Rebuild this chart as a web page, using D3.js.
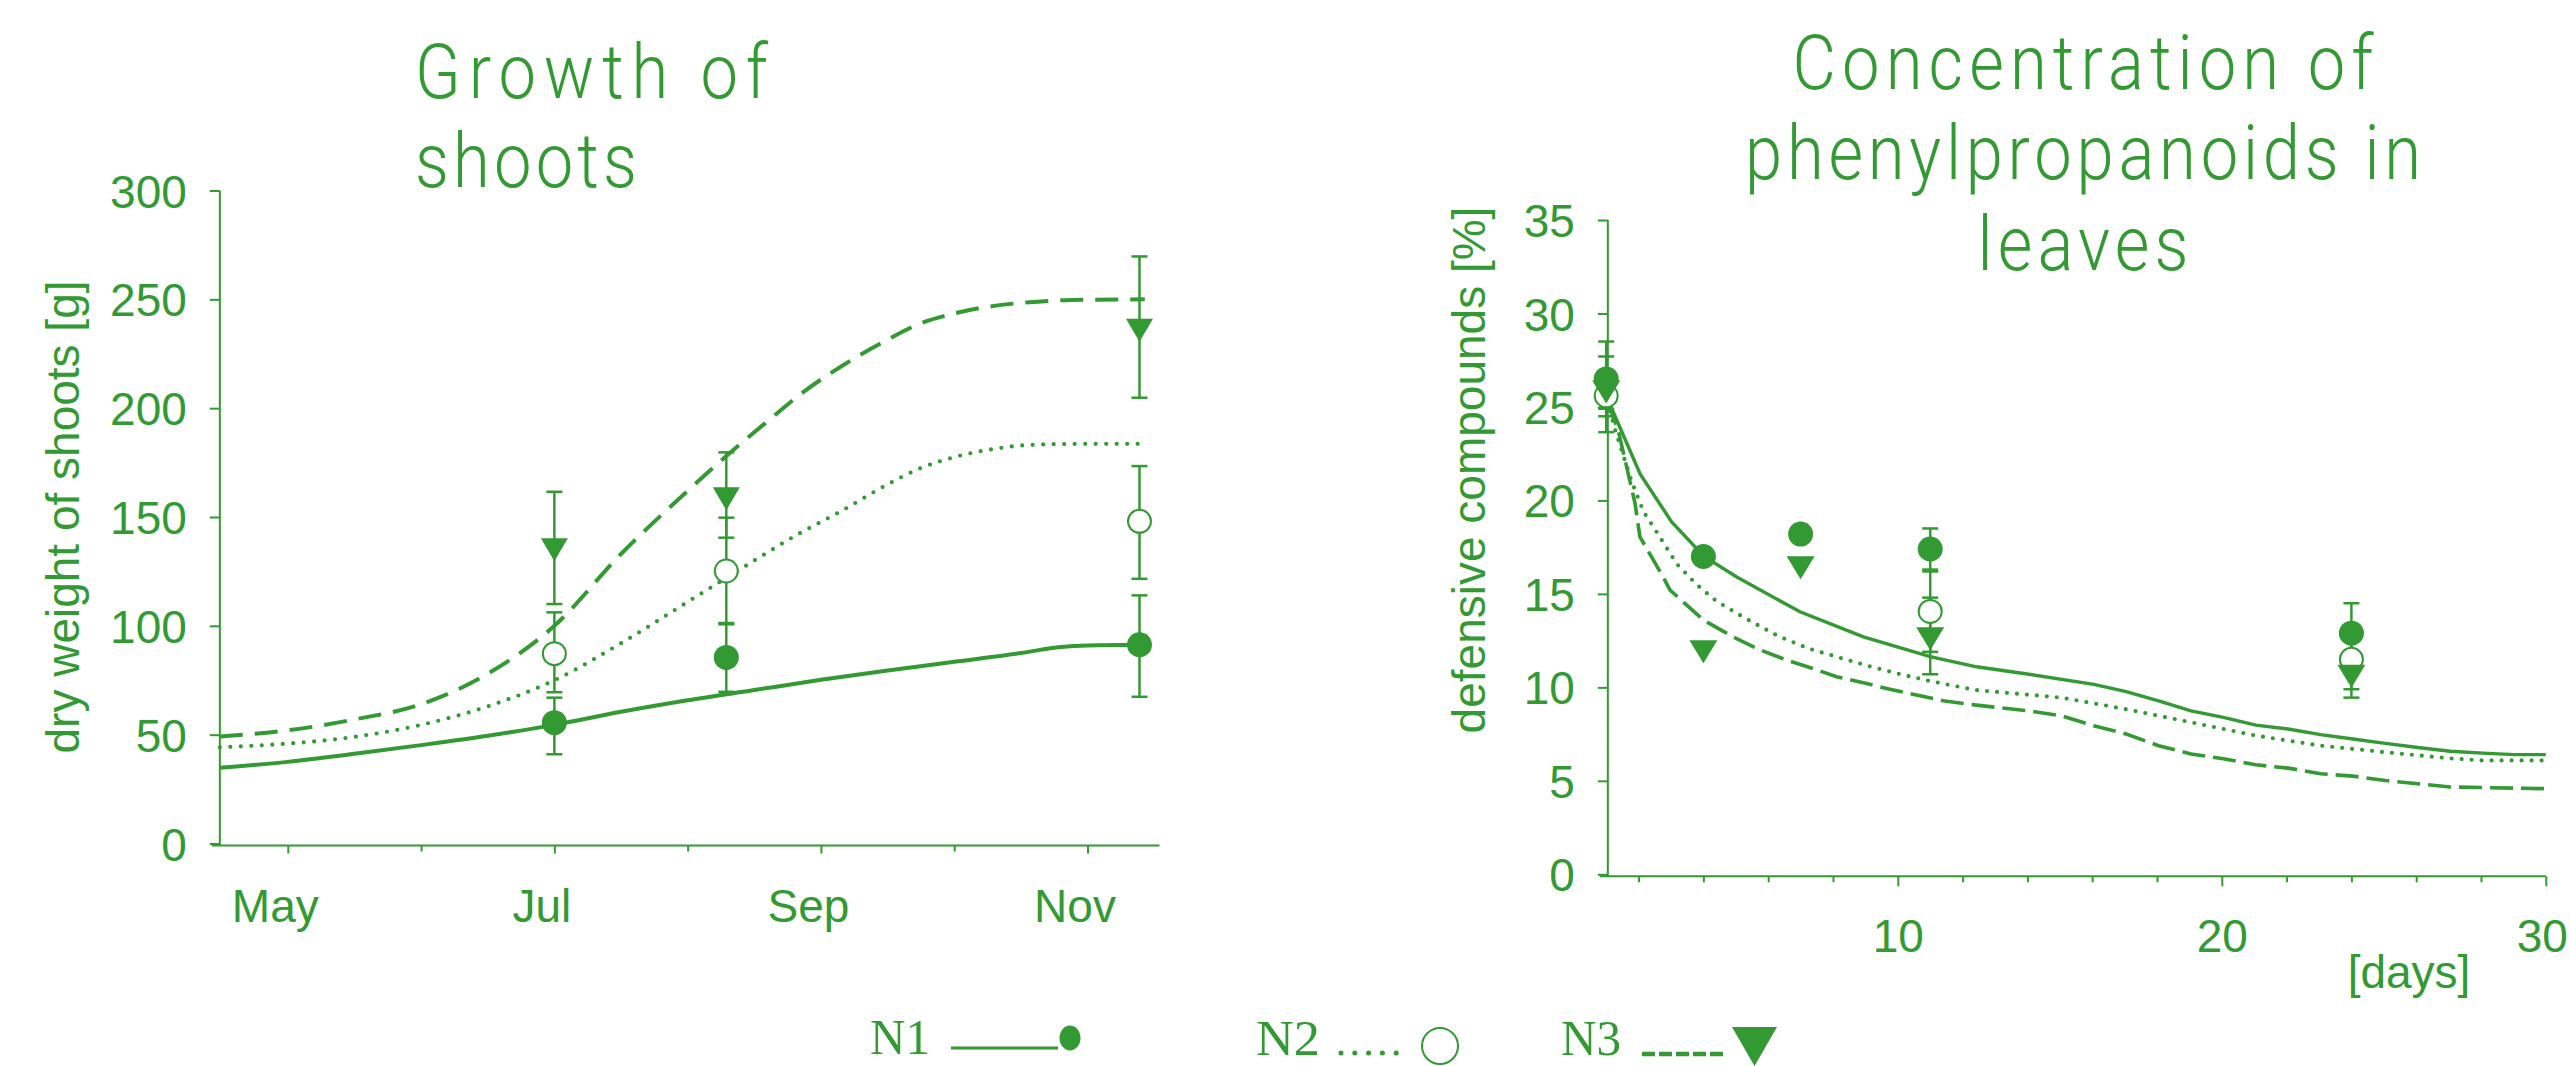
<!DOCTYPE html>
<html><head><meta charset="utf-8">
<script src="https://cdn.jsdelivr.net/npm/d3@7"></script>
<style>body{margin:0;background:#fff;} svg{display:block}</style>
</head><body>
<svg id="chart" width="2570" height="1066"></svg>
<script>
// ---------- DATA ----------
// Left panel: growth of shoots (x = month number, 5 = May)
const monthTicks = [5, 6, 7, 8, 9, 10, 11];
const monthLabels = ["May", "", "Jul", "", "Sep", "", "Nov"];
const growthYTicks = [0, 50, 100, 150, 200, 250, 300];

const growthN1Curve = [[4.49,34.8],[5.0,37.5],[5.5,41.2],[6.0,45.2],[6.5,49.5],[7.0,54.5],[7.5,60.5],[8.0,65.8],[8.5,70.5],[9.0,75.2],[9.5,79.5],[10.0,83.5],[10.5,87.5],[10.8,90.3],[11.0,91.0],[11.43,91.3]];
const growthN2Curve = [[4.49,44.2],[5.0,45.9],[5.5,49.0],[6.0,54.5],[6.5,63.0],[7.0,75.0],[7.5,92.0],[8.0,111.0],[8.29,122.0],[8.84,142.5],[9.16,153.0],[9.5,165.0],[9.73,172.0],[10.0,177.5],[10.3,181.3],[10.6,183.2],[11.0,183.6],[11.43,183.6]];
const growthN3Curve = [[4.49,49.2],[5.0,52.0],[5.5,57.0],[6.0,64.0],[6.5,78.0],[7.0,100.0],[7.5,133.0],[8.0,162.0],[8.29,178.0],[8.58,193.0],[8.87,207.5],[9.16,219.5],[9.5,231.5],[9.73,238.5],[10.0,243.5],[10.3,247.0],[10.6,248.8],[10.88,249.7],[11.43,250.0]];

const growthSampleMonths = [7.0, 8.29, 11.39];
const growthN1Mean = [55.5, 85.5, 91.3];
const growthN1Hi   = [67.0, 101.3, 114.0];
const growthN1Lo   = [41.0, 69.7, 67.4];
const growthN2Mean = [87.2, 125.2, 148.0];
const growthN2Hi   = [106.2, 149.7, 173.4];
const growthN2Lo   = [69.5, 100.7, 121.6];
const growthN3Mean = [135.0, 158.4, 235.8];
const growthN3Hi   = [161.6, 179.7, 269.7];
const growthN3Lo   = [110.0, 140.5, 204.8];

// Right panel: phenylpropanoids (x = days)
const dayTicks = [2,4,6,8,10,12,14,16,18,20,22,24,26,28,30];
const dayLabels = ["10", "20", "30"];
const concYTicks = [0, 5, 10, 15, 20, 25, 30, 35];

const concN1Curve = [[1.05,25.4],[2.05,21.4],[3.02,18.85],[4.02,17.0],[5.03,15.9],[6.98,14.04],[8.94,12.7],[11.0,11.64],[12.43,11.1],[14.05,10.7],[16.05,10.16],[17.05,9.77],[18.05,9.28],[19.05,8.74],[20.05,8.39],[21.05,7.98],[22.05,7.77],[23.05,7.47],[24.05,7.24],[25.05,7.0],[26.05,6.78],[27.05,6.58],[28.05,6.48],[29.05,6.4],[30,6.4]];
const concN2Curve = [[1.05,25.3],[1.27,23.8],[1.79,21.0],[2.15,19.4],[2.56,18.3],[3.18,16.6],[3.79,15.5],[4.41,14.6],[5.39,13.6],[6.31,12.74],[7.24,12.08],[8.22,11.58],[9.19,11.1],[10.17,10.66],[11.1,10.3],[12.38,9.86],[15.05,9.45],[17.05,8.83],[19.05,8.13],[21.05,7.42],[23.05,6.88],[25.05,6.53],[27.05,6.2],[28.05,6.09],[30,6.09]];
const concN3Curve = [[1.05,25.2],[1.37,23.76],[1.89,19.84],[2.04,18.05],[2.76,15.9],[2.97,15.2],[4.0,13.6],[4.92,12.7],[5.75,12.0],[6.57,11.46],[7.39,11.0],[8.11,10.57],[9.04,10.2],[9.86,9.86],[10.58,9.59],[11.4,9.28],[12.43,9.05],[14.05,8.74],[15.05,8.48],[16.05,7.95],[17.05,7.5],[18.05,6.88],[19.05,6.44],[20.05,6.18],[21.05,5.86],[22.05,5.68],[23.05,5.38],[24.05,5.25],[25.05,5.02],[26.05,4.84],[27.05,4.67],[29.05,4.61],[30,4.58]];

const concSampleDays = [1, 4, 7, 11, 24];
const concN1Mean = [26.5, 17.0, 18.2, 17.4, 12.9];
const concN1Hi   = [28.5, null, null, 18.5, 14.5];
const concN1Lo   = [24.5, null, null, 16.3, 11.3];
const concN2Mean = [25.6, null, null, 14.06, 11.5];
const concN2Hi   = [27.7, null, null, 16.2, 13.1];
const concN2Lo   = [23.65, null, null, 11.9, 9.9];
const concN3Mean = [25.8, 11.9, 16.4, 12.6, 10.6];
const concN3Hi   = [26.8, null, null, 14.8, 11.75];
const concN3Lo   = [24.9, null, null, 10.7, 9.45];

const legendLabels = ["N1", "N2", "N3"];

// ---------- DRAWING ----------
const GREEN = "#339933";
const SANS = "'Liberation Sans', Arial, sans-serif";
const TITLE = "Roboto, 'Liberation Sans', Arial, sans-serif";
const TSX = 0.88; // horizontal squeeze of title glyphs
const svg = d3.select("#chart");

function styleLine(sel, kind, w, dash) {
  sel.attr("fill", "none").attr("stroke", GREEN).attr("stroke-width", w);
  if (kind === "dot") sel.attr("stroke-dasharray", "0," + dash).attr("stroke-linecap", "round");
  if (kind === "dash") sel.attr("stroke-dasharray", dash);
}

function drawMarker(g, kind, cx, cy, s) {
  if (kind === "filled") {
    g.append("circle").attr("cx", cx).attr("cy", cy).attr("r", s.r).attr("fill", GREEN);
  } else if (kind === "open") {
    g.append("circle").attr("cx", cx).attr("cy", cy).attr("r", s.r - 1).attr("fill", "#fff")
      .attr("stroke", GREEN).attr("stroke-width", 2);
  } else {
    const w = s.tw, h = s.th;
    g.append("path").attr("d", `M${cx - w/2},${cy - h/2} L${cx + w/2},${cy - h/2} L${cx},${cy + h/2} Z`).attr("fill", GREEN);
  }
}

function drawErr(g, x, yHi, yLo) {
  g.append("line").attr("x1", x).attr("x2", x).attr("y1", yHi).attr("y2", yLo)
    .attr("stroke", GREEN).attr("stroke-width", 2.5);
  [yHi, yLo].forEach(y => g.append("line").attr("x1", x - 8).attr("x2", x + 8).attr("y1", y).attr("y2", y)
    .attr("stroke", GREEN).attr("stroke-width", 2.5));
}

function titleLine(g, text, x, y, len, anchor) {
  g.append("g").attr("transform", `translate(${x},${y}) scale(${TSX},1)`)
    .append("text").attr("x", 0).attr("y", 0).attr("text-anchor", anchor)
    .attr("fill", GREEN).attr("font-family", TITLE).attr("font-weight", 300).attr("font-size", 76)
    .attr("textLength", len / TSX).attr("lengthAdjust", "spacing").text(text);
}

// ===== Left panel =====
const xL = d3.scaleLinear().domain([5, 11]).range([287.8, 1087.5]);
const yL = d3.scaleLinear().domain([0, 300]).range([843.5, 190.5]);
const gL = svg.append("g");
const axisYL = yL(0) + 2;

const yAxL = gL.append("g").attr("transform", `translate(${xL(4.49)},0)`)
  .call(d3.axisLeft(yL).tickValues(growthYTicks).tickSize(10).tickPadding(23).tickSizeOuter(0));
yAxL.select(".domain").remove();
yAxL.selectAll("line").attr("stroke", GREEN).attr("stroke-width", 2);
yAxL.selectAll("text").attr("fill", GREEN).attr("font-family", SANS).attr("font-size", 46).attr("dy", "0.36em");
gL.append("line").attr("x1", xL(4.49)).attr("x2", xL(4.49)).attr("y1", yL(300)).attr("y2", axisYL)
  .attr("stroke", GREEN).attr("stroke-width", 2);

const xAxL = gL.append("g").attr("transform", `translate(0,${axisYL})`)
  .call(d3.axisBottom(xL).tickValues(monthTicks).tickSize(8).tickSizeOuter(0)
    .tickFormat((d, i) => monthLabels[i]));
xAxL.select(".domain").remove();
xAxL.selectAll("line").attr("stroke", GREEN).attr("stroke-width", 2)
  .attr("y2", (d, i) => monthLabels[i] ? 8 : 6);
xAxL.selectAll("text").attr("fill", GREEN).attr("font-family", SANS).attr("font-size", 46)
  .attr("y", 76).attr("dy", 0).attr("dx", -13);
gL.append("line").attr("x1", xL(4.49) - 8).attr("x2", xL(11.54)).attr("y1", axisYL).attr("y2", axisYL)
  .attr("stroke", GREEN).attr("stroke-width", 2);

gL.append("text").attr("transform", `translate(79,517) rotate(-90)`).attr("text-anchor", "middle")
  .attr("fill", GREEN).attr("font-family", SANS).attr("font-size", 46)
  .text("dry weight of shoots [g]");

titleLine(gL, "Growth of", 415, 98, 353, "start");
titleLine(gL, "shoots", 415, 187, 222, "start");

const lineL = d3.line().x(d => xL(d[0])).y(d => yL(d[1])).curve(d3.curveMonotoneX);
styleLine(gL.append("path").attr("d", lineL(growthN1Curve)), "solid", 4);
styleLine(gL.append("path").attr("d", lineL(growthN2Curve)), "dot", 4.2, 10.5);
styleLine(gL.append("path").attr("d", lineL(growthN3Curve)), "dash", 4, "23,12");

const markL = {r: 12.5, tw: 27, th: 23};
const seriesL = [
  [growthN3Mean, growthN3Hi, growthN3Lo, "tri"],
  [growthN2Mean, growthN2Hi, growthN2Lo, "open"],
  [growthN1Mean, growthN1Hi, growthN1Lo, "filled"]
];
seriesL.forEach(([m, hi, lo]) => growthSampleMonths.forEach((mo, i) => drawErr(gL, xL(mo), yL(hi[i]), yL(lo[i]))));
seriesL.forEach(([m, hi, lo, k]) => growthSampleMonths.forEach((mo, i) => drawMarker(gL, k, xL(mo), yL(m[i]), markL)));

// ===== Right panel =====
const xR = d3.scaleLinear().domain([0, 30]).range([1573.8, 2545.8]);
const yR = d3.scaleLinear().domain([0, 35]).range([874.3, 220]);
const gR = svg.append("g");
const axisYR = yR(0) + 2;
const yAxX = xR(1.05);

const yAxR = gR.append("g").attr("transform", `translate(${yAxX},0)`)
  .call(d3.axisLeft(yR).tickValues(concYTicks).tickSize(10).tickPadding(23).tickSizeOuter(0));
yAxR.select(".domain").remove();
yAxR.selectAll("line").attr("stroke", GREEN).attr("stroke-width", 2);
yAxR.selectAll("text").attr("fill", GREEN).attr("font-family", SANS).attr("font-size", 46).attr("dy", "0.36em");
gR.append("line").attr("x1", yAxX).attr("x2", yAxX).attr("y1", yR(35)).attr("y2", axisYR)
  .attr("stroke", GREEN).attr("stroke-width", 2);

const xAxR = gR.append("g").attr("transform", `translate(0,${axisYR})`)
  .call(d3.axisBottom(xR).tickValues(dayTicks).tickSize(10).tickSizeOuter(0)
    .tickFormat(d => dayLabels.includes(String(d)) ? String(d) : ""));
xAxR.select(".domain").remove();
xAxR.selectAll("line").attr("stroke", GREEN).attr("stroke-width", 2)
  .attr("y2", d => dayLabels.includes(String(d)) ? 10 : 6);
xAxR.selectAll("text").attr("fill", GREEN).attr("font-family", SANS).attr("font-size", 46)
  .attr("y", 76).attr("dy", 0).attr("dx", d => d === 30 ? -4 : 0);
gR.append("line").attr("x1", yAxX - 8).attr("x2", xR(30)).attr("y1", axisYR).attr("y2", axisYR)
  .attr("stroke", GREEN).attr("stroke-width", 2);

gR.append("text").attr("x", 2409).attr("y", 988).attr("text-anchor", "middle")
  .attr("fill", GREEN).attr("font-family", SANS).attr("font-size", 46).text("[days]");

gR.append("text").attr("transform", `translate(1485,470) rotate(-90)`).attr("text-anchor", "middle")
  .attr("fill", GREEN).attr("font-family", SANS).attr("font-size", 46)
  .text("defensive compounds [%]");

const titleR = [["Concentration of", 89, 581], ["phenylpropanoids in", 179, 676], ["leaves", 270, 211]];
titleR.forEach(([t, y, len]) => titleLine(gR, t, 2083, y, len, "middle"));

const lineR = d3.line().x(d => xR(d[0])).y(d => yR(d[1]));
styleLine(gR.append("path").attr("d", lineR(concN1Curve)), "solid", 3.4);
styleLine(gR.append("path").attr("d", lineR(concN2Curve)), "dot", 4.2, 10);
styleLine(gR.append("path").attr("d", lineR(concN3Curve)), "dash", 3.6, "23,8");

const markR = {r: 12.5, tw: 28, th: 23};
const seriesR = [
  [concN3Mean, concN3Hi, concN3Lo, "tri"],
  [concN2Mean, concN2Hi, concN2Lo, "open"],
  [concN1Mean, concN1Hi, concN1Lo, "filled"]
];
seriesR.forEach(([m, hi, lo]) => concSampleDays.forEach((d, i) => {
  if (hi[i] != null) drawErr(gR, xR(d), yR(hi[i]), yR(lo[i]));
}));
seriesR.slice().reverse().forEach(([m, hi, lo, k]) => concSampleDays.forEach((d, i) => {
  if (m[i] != null) drawMarker(gR, k, xR(d), yR(m[i]), markR);
}));

// ===== Legend =====
const SERIF = "'Liberation Serif', 'Times New Roman', serif";
const gLeg = svg.append("g");
gLeg.append("text").attr("x", 870).attr("y", 1054).attr("fill", GREEN).attr("font-family", SERIF)
  .attr("font-size", 50).attr("textLength", 60).attr("lengthAdjust", "spacingAndGlyphs").text(legendLabels[0]);
gLeg.append("line").attr("x1", 951).attr("x2", 1058).attr("y1", 1048).attr("y2", 1048)
  .attr("stroke", GREEN).attr("stroke-width", 3);
gLeg.append("ellipse").attr("cx", 1070).attr("cy", 1038).attr("rx", 10.5).attr("ry", 12.5).attr("fill", GREEN);

gLeg.append("text").attr("x", 1256).attr("y", 1055).attr("fill", GREEN).attr("font-family", SERIF)
  .attr("font-size", 50).attr("textLength", 64).attr("lengthAdjust", "spacingAndGlyphs").text(legendLabels[1]);
styleLine(gLeg.append("line").attr("x1", 1341).attr("x2", 1410).attr("y1", 1053).attr("y2", 1053), "dot", 5, 13.8);
gLeg.append("ellipse").attr("cx", 1440).attr("cy", 1046).attr("rx", 18).attr("ry", 18).attr("fill", "none")
  .attr("stroke", GREEN).attr("stroke-width", 2);

gLeg.append("text").attr("x", 1561).attr("y", 1055).attr("fill", GREEN).attr("font-family", SERIF)
  .attr("font-size", 50).attr("textLength", 60).attr("lengthAdjust", "spacingAndGlyphs").text(legendLabels[2]);
styleLine(gLeg.append("line").attr("x1", 1642).attr("x2", 1726).attr("y1", 1054).attr("y2", 1054), "dash", 4.5, "13,4");
gLeg.append("path").attr("d", "M1732,1027 L1777,1027 L1754.5,1066 Z").attr("fill", GREEN);
</script>
</body></html>
